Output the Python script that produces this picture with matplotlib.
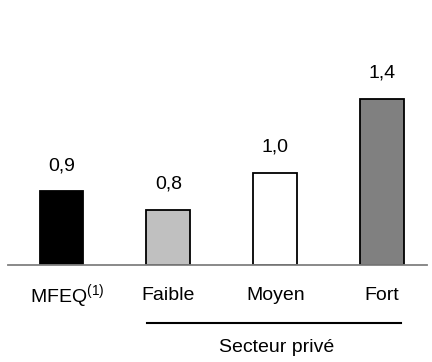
import matplotlib
matplotlib.use('Agg')
import matplotlib.pyplot as plt
from matplotlib.lines import Line2D

plt.rcParams['font.family'] = ['Liberation Sans', 'DejaVu Sans']
plt.rcParams['mathtext.fontset'] = 'custom'
plt.rcParams['mathtext.rm'] = 'Liberation Sans'
plt.rcParams['mathtext.it'] = 'Liberation Sans'

categories = ['MFEQ$^{(1)}$', 'Faible', 'Moyen', 'Fort']
values = [0.9, 0.8, 1.0, 1.4]
value_labels = ['0,9', '0,8', '1,0', '1,4']
bar_colors = ['#000000', '#c0c0c0', '#ffffff', '#808080']
group_label = 'Secteur privé'

fig = plt.figure(figsize=(4.32, 3.62), dpi=100)
ax = fig.add_axes([8 / 432, 97 / 362, 419 / 432, 265 / 362])

base = 0.5
x = range(len(values))
ax.bar(x, [v - base for v in values], bottom=base, width=0.41,
       color=bar_colors, edgecolor='black', linewidth=1.3)

# small horizontal nudge for the first label (superscript makes it lopsided)
label_dx = [4, 0, 0, 0]
for i, (v, lab) in enumerate(zip(values, value_labels)):
    ax.annotate(lab, xy=(i, v), xytext=(0, 12), textcoords='offset points',
                ha='center', va='bottom', fontsize=14)
    ax.annotate(categories[i], xy=(i, 0), xycoords=('data', 'axes fraction'),
                xytext=(label_dx[i], -22), textcoords='offset points',
                ha='center', va='center', fontsize=14)

ax.set_xlim(-0.5, 3.42)
ax.set_ylim(base, base + 265 / 185)
for s in ['top', 'right', 'left']:
    ax.spines[s].set_visible(False)
ax.spines['bottom'].set_color('#808080')
ax.spines['bottom'].set_linewidth(1.3)
ax.set_xticks([])
ax.set_yticks([])

# bracket line for private sector group
fig.add_artist(Line2D([147 / 432, 401 / 432], [1 - 323 / 362, 1 - 323 / 362],
                      color='black', linewidth=1.5))
fig.text(277 / 432, 1 - 348 / 362, group_label, ha='center', va='center',
         fontsize=14)

fig.savefig('out.png', dpi=100)
